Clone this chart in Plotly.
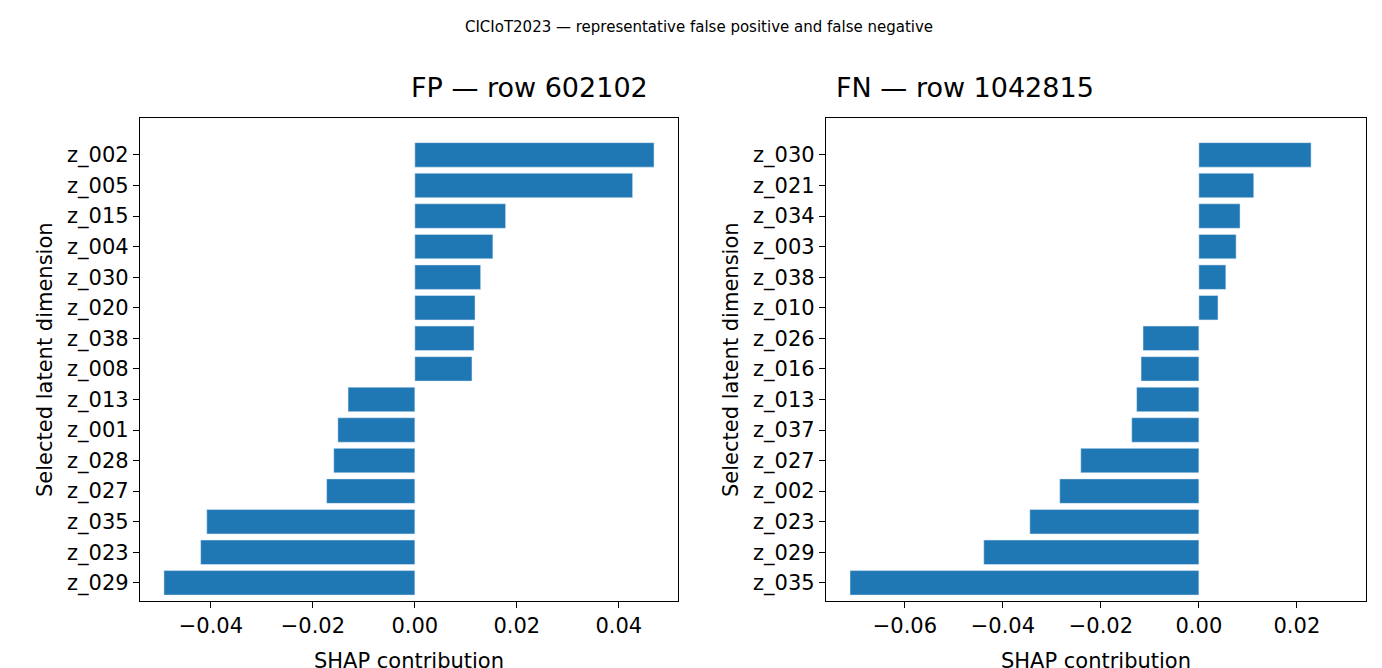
import plotly.graph_objects as go
from plotly.subplots import make_subplots

# Valores SHAP (ordem de cima para baixo)
fp_data = {
    'z_002': 0.0469, 'z_005': 0.0427, 'z_015': 0.0178, 'z_004': 0.0153,
    'z_030': 0.0129, 'z_020': 0.0118, 'z_038': 0.0116, 'z_008': 0.0112,
    'z_013': -0.0131, 'z_001': -0.0151, 'z_028': -0.0159, 'z_027': -0.0173,
    'z_035': -0.0408, 'z_023': -0.0420, 'z_029': -0.0492,
}
fn_data = {
    'z_030': 0.0229, 'z_021': 0.0112, 'z_034': 0.0084, 'z_003': 0.0076,
    'z_038': 0.0055, 'z_010': 0.0039, 'z_026': -0.0114, 'z_016': -0.0118,
    'z_013': -0.0127, 'z_037': -0.0137, 'z_027': -0.0241, 'z_002': -0.0284,
    'z_023': -0.0345, 'z_029': -0.0439, 'z_035': -0.0712,
}

fig = make_subplots(rows=1, cols=2)

# Gráfico de falso positivo
fig.add_trace(go.Bar(x=list(fp_data.values()), y=list(fp_data.keys()), orientation='h',
                     marker_color='#1f77b4', width=0.8), row=1, col=1)
# Gráfico de falso negativo
fig.add_trace(go.Bar(x=list(fn_data.values()), y=list(fn_data.keys()), orientation='h',
                     marker_color='#1f77b4', width=0.8), row=1, col=2)

axis_style = dict(showline=True, mirror=True, linecolor='black', linewidth=1.2,
                  ticks='outside', ticklen=6, tickcolor='black', showgrid=False,
                  zeroline=False, automargin=False, tickfont=dict(size=21, color='black'))

fig.update_xaxes(**axis_style)
fig.update_yaxes(**axis_style)
fig.update_xaxes(domain=[0.0955, 0.4848], range=[-0.0539, 0.0516], dtick=0.02,
                 tickformat='.2f', title=dict(text='SHAP contribution', font=dict(size=21)),
                 row=1, col=1)
fig.update_xaxes(domain=[0.5919, 0.9826], range=[-0.0761, 0.0341], dtick=0.02,
                 tickformat='.2f', title=dict(text='SHAP contribution', font=dict(size=21)),
                 row=1, col=2)
fig.update_yaxes(domain=[0.112, 0.835], range=[14.6, -1.2],
                 title=dict(text='Selected latent dimension', font=dict(size=21), standoff=8))

fig.add_annotation(text='FP — row 602102', x=0.29, y=0.855, xref='paper', yref='paper',
                   showarrow=False, yanchor='bottom', font=dict(size=27))
fig.add_annotation(text='FN — row 1042815', x=0.787, y=0.855, xref='paper', yref='paper',
                   showarrow=False, yanchor='bottom', font=dict(size=27))

fig.update_layout(
    title=dict(text='CICIoT2023 — representative false positive and false negative',
               x=0.5, y=0.972, xanchor='center', yanchor='middle', font=dict(size=15)),
    width=1382, height=668, showlegend=False,
    margin=dict(l=0, r=0, t=0, b=0),
    plot_bgcolor='white', paper_bgcolor='white',
    font=dict(family='DejaVu Sans', color='black'),
)

fig.write_html('out.html')
